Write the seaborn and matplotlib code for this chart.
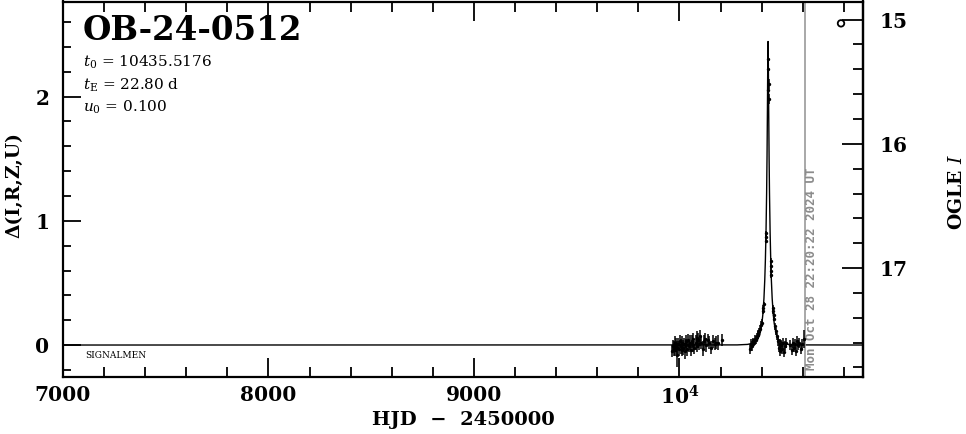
import matplotlib
matplotlib.use("Agg")
import matplotlib.pyplot as plt
import matplotlib.transforms as mtransforms
from matplotlib.ticker import MultipleLocator
import pandas as pd
import seaborn as sns

# ---------------- data ----------------
event_name = "OB-24-0512"
param_lines = [r"$t_0$ = 10435.5176", r"$t_{\rm E}$ = 22.80 d", r"$u_0$ = 0.100"]
survey_label = "SIGNALMEN"
timestamp = "Mon Oct 28 22:20:22 2024 UT"
now_hjd = 10612.4
I_base = 17.62

xtick_values = [7000, 8000, 9000, 10000]
xtick_labels = ["7000", "8000", "9000", r"$\mathbf{10^4}$"]
ytick_values = [0, 1, 2]
ytick_labels = ["0", "1", "2"]
mag_ticks = [15, 16, 17]
mag_labels = ["15", "16", "17"]

data_t = [9963, 9968, 9972, 9976, 9979, 9983, 9986, 9990, 9994, 9998,
          10002, 10006, 10010, 10014, 10018, 10022, 10026, 10030, 10034, 10038,
          10043, 10047, 10051, 10055, 10060, 10064, 10068, 10073, 10078, 10083,
          10087, 10092, 10097, 10102, 10107, 10112, 10118, 10124, 10131, 10138,
          10146, 10153, 10162, 10171, 10178, 10188, 10205,
          10344, 10348, 10352, 10356, 10360, 10364, 10368, 10372, 10376, 10380,
          10384, 10388, 10393, 10398, 10401,
          10407, 10408, 10409.5, 10420, 10420.6, 10421.2, 10428.5,
          10432.5, 10433.0, 10433.5, 10434.0,
          10443, 10444, 10445, 10446, 10454, 10456, 10458, 10460, 10465, 10469, 10473,
          10478, 10483, 10487, 10491, 10495, 10499, 10503, 10508, 10514, 10520,
          10540, 10546, 10551, 10556, 10561, 10566, 10571, 10577, 10583, 10590,
          10596, 10604]
data_d = [-0.05, -0.01, -0.03, 0.02, -0.04, 0.00, -0.02, -0.08, 0.01, -0.03,
          0.03, -0.01, -0.04, 0.02, -0.02, 0.01, -0.05, 0.03, 0.00, -0.03,
          0.04, -0.01, 0.02, -0.04, 0.03, 0.00, 0.05, -0.02, 0.02, 0.06,
          -0.01, 0.04, 0.01, 0.07, 0.02, -0.03, 0.03, 0.05, 0.00, 0.04,
          0.02, -0.02, 0.03, 0.01, 0.02, 0.02, 0.04,
          -0.03, 0.01, -0.01, 0.02, 0.03, 0.02, 0.05, 0.04, 0.07, 0.08,
          0.09, 0.11, 0.13, 0.16, 0.18,
          0.27, 0.30, 0.33, 0.84, 0.87, 0.90, 2.05,
          2.30, 2.22, 2.10, 1.98,
          0.68, 0.64, 0.60, 0.56, 0.30, 0.27, 0.24, 0.21, 0.15, 0.11, 0.07,
          0.03, -0.02, 0.01, -0.05, 0.00, -0.03, 0.02, -0.06, -0.01, 0.02,
          0.00, -0.04, 0.02, -0.02, 0.01, -0.05, 0.03, 0.00, 0.02, -0.03,
          0.01, 0.05]
data_e = [0.05, 0.05, 0.06, 0.05, 0.05, 0.06, 0.05, 0.10, 0.05, 0.06,
          0.05, 0.06, 0.05, 0.05, 0.06, 0.05, 0.06, 0.05, 0.05, 0.06,
          0.05, 0.05, 0.06, 0.05, 0.05, 0.06, 0.05, 0.05, 0.06, 0.05,
          0.05, 0.06, 0.05, 0.05, 0.05, 0.06, 0.05, 0.05, 0.06, 0.05,
          0.05, 0.05, 0.05, 0.05, 0.05, 0.06, 0.05,
          0.04, 0.04, 0.04, 0.03, 0.03, 0.03, 0.03, 0.03, 0.03, 0.03,
          0.03, 0.03, 0.03, 0.03, 0.03,
          0.02, 0.02, 0.02, 0.02, 0.02, 0.02, 0.02,
          0.04, 0.04, 0.04, 0.04,
          0.02, 0.02, 0.02, 0.02, 0.02, 0.02, 0.02, 0.02, 0.03, 0.03, 0.03,
          0.04, 0.04, 0.04, 0.04, 0.04, 0.04, 0.04, 0.04, 0.04, 0.04,
          0.04, 0.04, 0.04, 0.04, 0.04, 0.04, 0.04, 0.04, 0.04, 0.04,
          0.04, 0.07]

model_t = [7000, 10281, 10331, 10361, 10381, 10391, 10401, 10406, 10411, 10415,
           10418, 10421, 10424, 10426, 10428, 10429, 10430, 10431, 10432, 10433,
           10434, 10436, 10438, 10441, 10444, 10447, 10451, 10456, 10461, 10471,
           10481, 10501, 10531, 10581, 10895]
model_d = [0.0, 0.001, 0.005, 0.016, 0.046, 0.086, 0.173, 0.252, 0.376, 0.526,
           0.686, 0.907, 1.223, 1.517, 1.910, 2.139, 2.350, 2.444, 2.350, 2.139,
           1.910, 1.517, 1.223, 0.907, 0.686, 0.526, 0.376, 0.252, 0.173, 0.086,
           0.046, 0.016, 0.005, 0.001, 0.0]

marker_t = [10786]
marker_d = [2.59]

# ---------------- style ----------------
sns.set_theme(style="ticks")
plt.rcParams["font.family"] = ["DejaVu Serif"]
plt.rcParams["mathtext.fontset"] = "dejavuserif"
for k in ["text.color", "axes.labelcolor", "xtick.color", "ytick.color", "axes.edgecolor"]:
    plt.rcParams[k] = "black"

W, H = 966, 434
fig = plt.figure(figsize=(W / 100, H / 100), dpi=100)
ax_l, ax_r, ax_t, ax_b = 63, 863, 1.5, 376.7
ax = fig.add_axes([ax_l / W, (H - ax_b) / H, (ax_r - ax_l) / W, (ax_b - ax_t) / H])
ax.set_facecolor("white")

df_model = pd.DataFrame({"t": model_t, "d": model_d})
df_data = pd.DataFrame({"t": data_t, "d": data_d, "e": data_e})
df_mark = pd.DataFrame({"t": marker_t, "d": marker_d})

sns.lineplot(data=df_model, x="t", y="d", sort=False, estimator=None,
             color="black", linewidth=1.0, ax=ax)
ax.errorbar(df_data["t"], df_data["d"], yerr=df_data["e"], fmt="none",
            ecolor="black", elinewidth=1.1, capsize=0, zorder=3)
sns.scatterplot(data=df_data, x="t", y="d", color="black", s=6, linewidth=0,
                ax=ax, zorder=4)
sns.scatterplot(data=df_mark, x="t", y="d", facecolor="none", edgecolor="black",
                s=22, linewidth=1.3, ax=ax, zorder=4)

ax.axvline(now_hjd, color="#9a9a9a", linewidth=1.2, zorder=2)

ax.set_xlim(7000, 10893)
ax.set_ylim(-0.255, 2.766)

for sp in ax.spines.values():
    sp.set_visible(True)
    sp.set_linewidth(1.6)
    sp.set_color("black")

ax.set_xticks(xtick_values)
ax.set_xticklabels(xtick_labels)
ax.xaxis.set_minor_locator(MultipleLocator(200))
ax.set_yticks(ytick_values)
ax.set_yticklabels(ytick_labels)
ax.yaxis.set_minor_locator(MultipleLocator(0.2))

ax.tick_params(axis="x", which="both", direction="in", top=True, bottom=True,
               width=1.3, color="black")
ax.tick_params(axis="x", which="major", length=14, pad=6, labelsize=14.5)
ax.tick_params(axis="x", which="minor", length=7)
ax.tick_params(axis="y", which="both", direction="in", left=True, right=False,
               width=1.3, color="black")
ax.tick_params(axis="y", which="major", length=13, pad=10, labelsize=14.5)
ax.tick_params(axis="y", which="minor", length=6)
for lab in ax.get_xticklabels() + ax.get_yticklabels():
    lab.set_fontweight("bold")

sec = ax.secondary_yaxis("right", functions=(lambda d: I_base - d, lambda m: I_base - m))
sec.set_yticks(mag_ticks)
sec.set_yticklabels(mag_labels)
sec.yaxis.set_minor_locator(MultipleLocator(0.2))
sec.tick_params(axis="y", which="both", direction="in", width=1.3, color="black")
sec.tick_params(axis="y", which="major", length=15, pad=12, labelsize=14.5)
sec.tick_params(axis="y", which="minor", length=7)
sec.spines["right"].set_linewidth(1.6)
for lab in sec.get_yticklabels():
    lab.set_fontweight("bold")

ax.set_xlabel("HJD  \u2212  2450000", fontsize=14, fontweight="bold")
ax.xaxis.set_label_coords(0.5, (ax_b - 420) / (ax_b - ax_t))
ax.xaxis.label.set_va("center")
ax.set_ylabel("\u0394(I,R,Z,U)", fontsize=13.5, fontweight="bold")
ax.yaxis.set_label_coords((14 - ax_l) / (ax_r - ax_l), (ax_b - 185) / (ax_b - ax_t))
ax.yaxis.label.set_va("center")
fig.text(957 / W, 1 - 192 / H, r"OGLE $I$", fontsize=13.5, fontweight="bold",
         rotation=90, ha="center", va="center")


def ax_y(py):
    return (ax_b - py) / (ax_b - ax_t)


def ax_x(px):
    return (px - ax_l) / (ax_r - ax_l)


ax.text(ax_x(83), ax_y(40), event_name, transform=ax.transAxes, fontsize=23.5,
        fontweight="bold", va="baseline", ha="left")
for line, base in zip(param_lines, [67, 90, 112]):
    ax.text(ax_x(83), ax_y(base), line, transform=ax.transAxes, fontsize=11,
            va="baseline", ha="left")
ax.text(ax_x(85), ax_y(358), survey_label, transform=ax.transAxes, fontsize=6.5,
        va="baseline", ha="left")

trans = mtransforms.blended_transform_factory(ax.transData, ax.transAxes)
ax.text(10640, ax_y(370), timestamp, transform=trans, rotation=90,
        ha="center", va="bottom", color="#8c8c8c", fontsize=9,
        family="DejaVu Sans Mono", fontweight="bold")

fig.savefig("out.png", dpi=100, facecolor="white")
